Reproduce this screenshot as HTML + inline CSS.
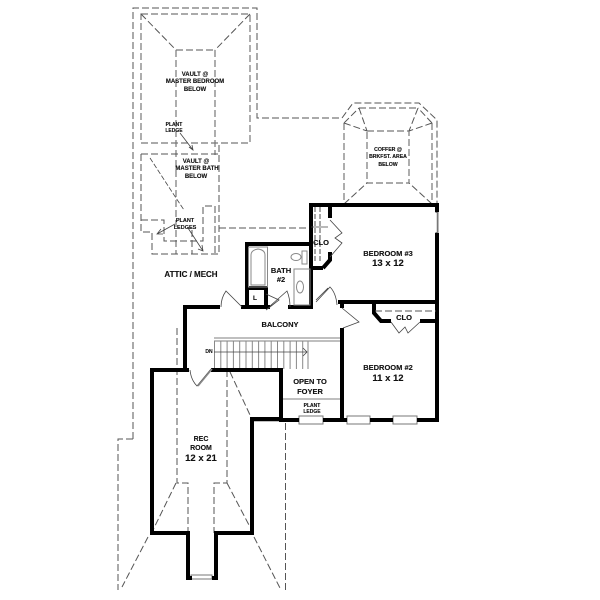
<!DOCTYPE html>
<html><head><meta charset="utf-8"><style>
html,body{margin:0;padding:0;background:#fff}
svg{display:block}
text{font-family:"Liberation Sans",sans-serif;font-weight:bold;fill:#111;text-anchor:middle;stroke:#111;stroke-width:.12}
.d{fill:none;stroke:#555;stroke-width:1;stroke-dasharray:7 3}
.g{fill:none;stroke:#777;stroke-width:1.2;stroke-dasharray:7 3}
.w{fill:none;stroke:#000;stroke-width:4;stroke-linejoin:miter}
.t{fill:none;stroke:#444;stroke-width:.8}
.y{fill:none;stroke:#888;stroke-width:1}
.gl{fill:none;stroke:#999;stroke-width:1.2}
</style></head><body>
<svg width="600" height="600" viewBox="0 0 600 600" xmlns="http://www.w3.org/2000/svg">
<rect width="600" height="600" fill="#fff"/>
<!-- attic outline -->
<path class="d" d="M133 439V8H257V118H342L353 103H419L437 120V204"/>
<path class="d" d="M133 439H118V590"/>
<!-- master bedroom vault -->
<path class="g" d="M141 14H250V143H141Z"/>
<path class="d" d="M141 14L176 50M250 14L215 50"/>
<path class="g" d="M176 50H215"/>
<path class="g" d="M176 50V254M215 50V155"/>
<path class="d" d="M141 154H219M141 154V232H152V254H219V143"/>
<path class="d" d="M141 220H164V241H203V206H215V254M192 230V254"/>
<path class="t" stroke-dasharray="5 2" d="M150 158L176 198L184 210"/>
<path class="t" d="M180 133L193 150M189 147L193 150L192 145"/>
<path class="t" d="M175 224L157 234M161 229L157 234L163 234"/>
<path class="t" d="M188 228L203 251M198 249L203 251L202 245"/>
<path class="d" d="M219 228H312"/>
<!-- coffer -->
<path class="g" d="M367 131H409V183H367Z"/>
<path class="g" d="M359 108H418M344 123V204M432 123V204"/>
<path class="d" d="M344 123L359 108M432 123L418 108M344 123L367 131M432 123L409 131M359 108L367 131M418 108L409 131M344 204L367 183M432 204L409 183"/>
<!-- rec room dashes -->
<path class="d" d="M177 328V483H188V533M227 370V483H214V533"/>
<path class="d" d="M176 483L153 530M148 537L122 587M227 483L250 527M254 537L281 590M230 372L250 415"/>
<path class="d" d="M285.500 423V590"/>
<!-- windows -->
<g fill="#fff" stroke="#777" stroke-width="1">
<rect x="299" y="416" width="24" height="8"/>
<rect x="347" y="416" width="23" height="8"/>
<rect x="393" y="416" width="24" height="8"/>
<rect x="191" y="575" width="21" height="4"/>
</g>
<path class="gl" d="M254 421H299M323 421H347M370 421H393M417 421H437"/>
<!-- stairs -->
<path class="gl" d="M214 338H340M214 341H340M308 341V369"/>
<g class="y">
<path d="M214.500 341V369M220.800 341V369M227.100 341V369M233.400 341V369M239.700 341V369M246 341V369M252.300 341V369M258.600 341V369M264.900 341V369M271.200 341V369M277.500 341V369M283.800 341V369M290.100 341V369M296.400 341V369M302.700 341V369"/>
</g>
<path class="t" d="M214 352H307M303 348L307 352L303 356"/>
<path class="gl" d="M282 399H340"/>
<!-- walls -->
<path class="w" d="M185 371V307H220M241 307H270M288 307H311V244H247V307M247 288H266V307"/>
<path class="w" d="M311 268V205H437V212M437 233V302H338M323 268H311M323 268L330 260V252M330 205V218"/>
<path class="w" d="M437 302V420H417M393 420H370M347 420H323M299 420H281V370H211M189 370H152V533H188V578H192M212 578H216V533H252V419H281"/>
<path class="w" d="M342 328V420M342 302V308"/>
<path class="w" d="M374 302V313L381 321H391M420 321H437"/>
<path d="M437 212V233" stroke="#777" stroke-width="3" fill="none"/>
<path d="M436 213V232" stroke="#fff" stroke-width="1.500" fill="none"/>
<!-- doors -->
<g class="t" stroke-width="1">
<path d="M221 307Q221 298 226 291L242 307"/>
<path d="M211 369L197 386Q191 380 190 370"/>
<path d="M212 369L198 386" stroke="#888" stroke-width="1.500"/>
<path d="M266 294L279 300L266 310M270 306L287 291Q290 298 290 307"/>
<path d="M316 302L330 287Q336 293 337 305M316 300L328 288" />
<path d="M342 308L359 322L343 328"/>
<path d="M330 220L342 233L335 238L342 243L330 257"/>
<path d="M391 322L399 333L405 327L408 333L420 322"/>
</g>
<path class="d" stroke-width=".9" stroke-dasharray="2 1" d="M375 311H436"/>
<!-- closet rods -->
<path d="M315 207V262M320 207V262" stroke="#888" stroke-width="1.500" stroke-dasharray="5 2" fill="none"/>
<path class="t" d="M311 227H328"/>
<!-- bath fixtures -->
<g class="y" stroke="#666">
<rect x="248.500" y="247" width="19" height="40"/>
<path d="M251 285V255Q251 250 258 249Q265 250 265 255V285H251Z"/>
<rect x="302" y="251" width="5" height="13"/>
<ellipse cx="296" cy="257" rx="5" ry="3.500"/>
<rect x="294" y="269" width="16" height="36"/>
<ellipse cx="300" cy="287" rx="3.500" ry="6"/>
</g>
<!-- labels -->
<g>
<text x="195" y="76" font-size="6">VAULT @</text>
<text x="195" y="83" font-size="6">MASTER BEDROOM</text>
<text x="195" y="91" font-size="6">BELOW</text>
<text x="174" y="126" font-size="5">PLANT</text>
<text x="174" y="132" font-size="5">LEDGE</text>
<text x="196" y="163" font-size="6">VAULT @</text>
<text x="197" y="170" font-size="6">MASTER BATH</text>
<text x="196" y="178" font-size="6">BELOW</text>
<text x="185" y="222" font-size="5.500">PLANT</text>
<text x="185" y="229" font-size="5.500">LEDGES</text>
<text x="191" y="277" font-size="8">ATTIC / MECH</text>
<text x="388" y="151" font-size="5.200">COFFER @</text>
<text x="388" y="158" font-size="5.200">BRKFST. AREA</text>
<text x="388" y="166" font-size="5.200">BELOW</text>
<text x="321" y="245" font-size="7.500">CLO</text>
<text x="281" y="273" font-size="7.500">BATH</text>
<text x="281" y="282" font-size="7.500">#2</text>
<text x="255" y="300" font-size="6.500">L</text>
<text x="388" y="256" font-size="7.500">BEDROOM #3</text>
<text x="388" y="266" font-size="9.500">13 x 12</text>
<text x="404" y="320" font-size="7.500">CLO</text>
<text x="280" y="327" font-size="7.500">BALCONY</text>
<text x="209" y="353" font-size="5">DN</text>
<text x="310" y="384" font-size="7.500">OPEN TO</text>
<text x="310" y="394" font-size="7.500">FOYER</text>
<text x="312" y="407" font-size="5">PLANT</text>
<text x="312" y="413" font-size="5">LEDGE</text>
<text x="388" y="370" font-size="7.500">BEDROOM #2</text>
<text x="388" y="381" font-size="9.500">11 x 12</text>
<text x="201" y="441" font-size="7">REC</text>
<text x="201" y="450" font-size="7">ROOM</text>
<text x="201" y="461" font-size="9.500">12 x 21</text>
</g>
</svg>
</body></html>
